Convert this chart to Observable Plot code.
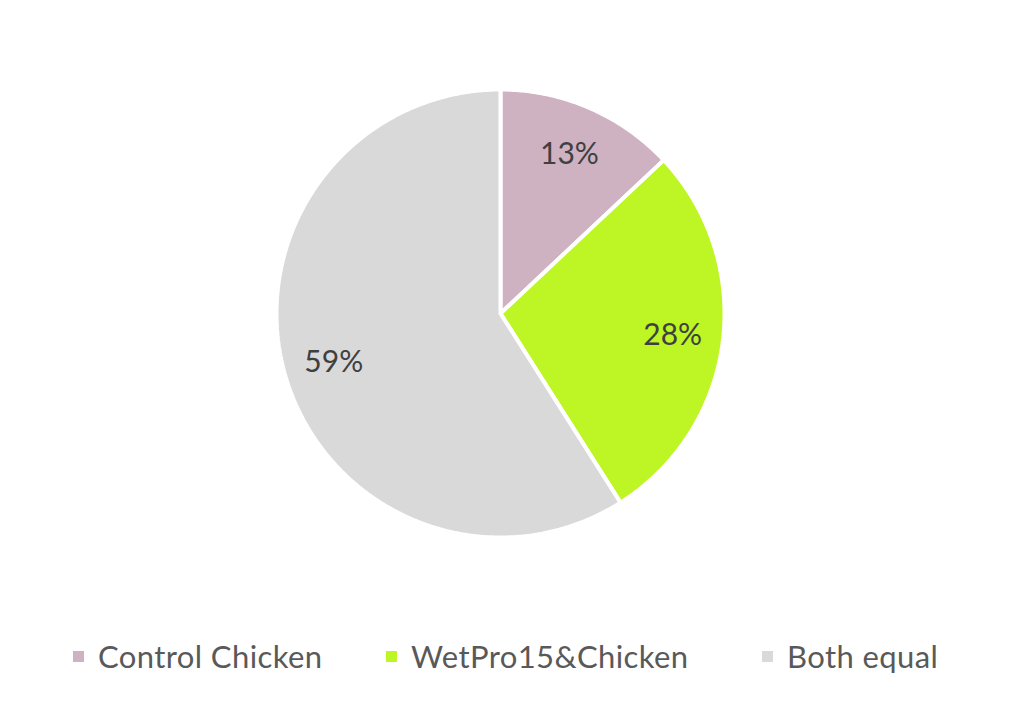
<!DOCTYPE html>
<html>
<head>
<meta charset="utf-8">
<script src="https://cdn.jsdelivr.net/npm/d3@7"></script>
<script src="https://cdn.jsdelivr.net/npm/@observablehq/plot@0.6"></script>
<style>
  html, body { margin: 0; padding: 0; background: #fff; }
  #wrap { position: relative; width: 1024px; height: 718px; font-family: Lato, "Open Sans", sans-serif; }
  #legend { position: absolute; left: 0; top: 634px; width: 1024px; height: 44px; }
  .item { position: absolute; top: 0; display: flex; align-items: center; height: 44px; font-size: 31px; letter-spacing: 0.4px; color: #595959; white-space: nowrap; }
  .sw { width: 11px; height: 11px; margin-right: 14px; }
</style>
</head>
<body>
<div id="wrap">
  <div id="chart"></div>
  <div id="legend"></div>
</div>
<script>
const categories = ["Control Chicken", "WetPro15&Chicken", "Both equal"];
const values = [13, 28, 59];
const labels = ["13%", "28%", "59%"];
const colors = ["#CFB2C2", "#BEF524", "#D9D9D9"];

const pie = d3.pie().sort(null).value(d => d.value);
const arcs = pie(categories.map((c, i) => ({category: c, value: values[i], label: labels[i]})));

// polygon points for each slice, in unit-circle coordinates (angle 0 at top, clockwise)
const polys = [];
for (const a of arcs) {
  const n = Math.max(2, Math.ceil((a.endAngle - a.startAngle) / 0.01));
  polys.push({category: a.data.category, x: 0, y: 0});
  for (let k = 0; k <= n; k++) {
    const t = a.startAngle + (a.endAngle - a.startAngle) * k / n;
    polys.push({category: a.data.category, x: Math.sin(t), y: Math.cos(t)});
  }
  polys.push({category: a.data.category, x: 0, y: 0});
}
const labelPts = arcs.map(a => {
  const m = (a.startAngle + a.endAngle) / 2;
  return {label: a.data.label, x: 0.775 * Math.sin(m), y: 0.775 * Math.cos(m)};
});

const chart = Plot.plot({
  width: 1024,
  height: 600,
  marginLeft: 276,
  marginRight: 300,
  marginTop: 89,
  marginBottom: 63,
  x: {domain: [-1, 1], axis: null},
  y: {domain: [-1, 1], axis: null},
  color: {domain: categories, range: colors},
  style: {fontFamily: "Lato, 'Open Sans', sans-serif", background: "#fff"},
  marks: [
    Plot.line(polys, {x: "x", y: "y", z: "category", fill: "category", stroke: "#fff", strokeWidth: 4, strokeLinejoin: "miter", curve: "linear"}),
    Plot.text(labelPts, {x: "x", y: "y", text: "label", fontSize: 30, fill: "#404040"})
  ]
});
document.getElementById("chart").appendChild(chart);

const legendX = [73, 386, 762];
const legend = document.getElementById("legend");
categories.forEach((c, i) => {
  const it = document.createElement("div");
  it.className = "item";
  it.style.left = legendX[i] + "px";
  const sw = document.createElement("span");
  sw.className = "sw";
  sw.style.background = colors[i];
  it.appendChild(sw);
  it.appendChild(document.createTextNode(c));
  legend.appendChild(it);
});
</script>
</body>
</html>
